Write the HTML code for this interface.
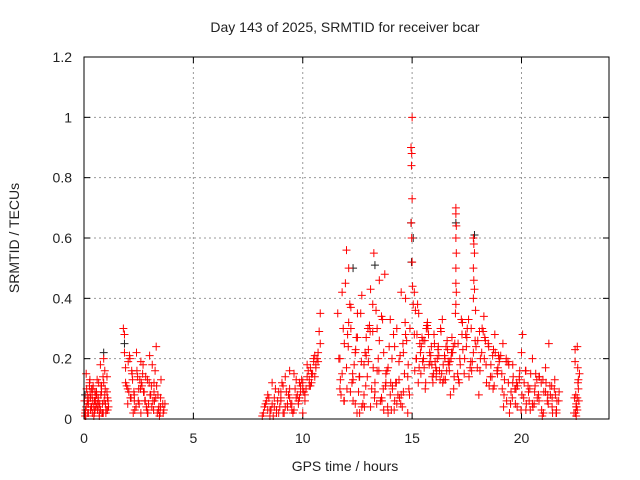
<!DOCTYPE html>
<html><head><meta charset="utf-8"><style>
body{margin:0;background:#fff;}
svg{display:block;font-family:"Liberation Sans",sans-serif;}
</style></head><body>
<svg id="chart" width="640" height="480" viewBox="0 0 640 480" xmlns="http://www.w3.org/2000/svg">
<rect width="640" height="480" fill="#fff"/>
<text x="345" y="32" font-size="14" text-anchor="middle" fill="#222">Day 143 of 2025, SRMTID for receiver bcar</text>
<text x="345" y="471" font-size="14" text-anchor="middle" fill="#222">GPS time / hours</text>
<text transform="translate(19,238) rotate(-90)" font-size="14" text-anchor="middle" fill="#222">SRMTID / TECUs</text>
<g id="grid"></g>
<g id="ticks"></g>
<g id="marks"></g>
<rect x="84" y="57" width="525" height="362" fill="none" stroke="#000" stroke-width="1"/>
</svg>
<script>
const xTicks=[0,5,10,15,20];
const yTicks=[0,0.2,0.4,0.6,0.8,1,1.2];
const yTickLabels=["0","0.2","0.4","0.6","0.8","1","1.2"];
const redHours=[
0.05,0.1,0.15,0.2,0.25,0.3,0.35,0.4,0.45,0.5,0.55,0.6,0.65,0.7,0.75,0.8,0.85,0.9,0.95,1.0,1.05,1.1,0.1,0.2,0.3,0.4,0.5,0.6,0.7,0.8,0.9,1.0,0.15,0.35,0.55,0.75,0.95,0.05,0.25,0.45,0.65,0.85,1.05,
1.8,1.85,1.9,2.0,2.1,2.2,2.3,2.4,2.5,2.6,2.7,2.8,2.9,3.0,3.1,3.2,3.3,3.4,3.5,3.6,1.9,2.05,2.25,2.45,2.65,2.85,3.05,3.25,3.45,3.65,2.0,2.3,2.6,2.9,3.2,3.5,2.15,2.55,2.95,3.35,1.85,2.75,3.15,
8.2,8.3,8.4,8.5,8.6,8.7,8.8,8.9,9.0,9.1,9.2,9.3,9.4,9.5,9.6,9.7,9.8,9.9,10.0,10.1,10.2,10.3,10.4,10.5,10.6,10.7,10.8,8.35,8.65,8.95,9.25,9.55,9.85,10.15,10.45,10.75,8.5,9.0,9.5,10.0,10.5,9.4,9.75,10.3,
11.6,11.7,11.8,11.9,12.0,12.1,12.2,12.3,12.4,12.5,12.6,12.7,12.8,12.9,13.0,13.1,13.2,13.3,13.4,13.5,13.6,13.7,13.8,13.9,14.0,14.1,14.2,14.3,14.4,14.5,14.6,14.7,14.8,
11.7,11.9,12.1,12.3,12.5,12.7,12.9,13.1,13.3,13.5,13.7,13.9,14.1,14.3,14.5,14.7,11.8,12.2,12.6,13.0,13.4,13.8,14.2,14.6,12.0,12.4,12.8,13.2,13.6,14.0,14.4,14.8,11.95,12.05,13.25,13.35,13.75,
14.95,14.97,15.0,14.98,15.0,14.96,14.98,15.0,15.02,15.05,14.9,15.1,
15.1,15.2,15.3,15.4,15.5,15.6,15.7,15.8,15.9,16.0,16.1,16.2,16.3,16.4,16.5,16.6,16.7,16.8,16.9,15.15,15.35,15.55,15.75,15.95,16.15,16.35,16.55,16.75,15.25,15.65,16.05,16.45,16.85,15.45,15.85,16.25,16.65,
17.0,17.0,17.02,17.0,17.02,17.0,17.0,17.02,17.0,16.98,
17.1,17.2,17.3,17.4,17.5,17.6,17.7,17.8,17.9,18.0,18.1,18.2,18.3,18.4,18.5,18.6,18.7,18.8,18.9,19.0,17.15,17.45,17.75,18.05,18.35,18.65,18.95,17.25,17.65,18.25,18.75,
17.8,17.82,17.85,17.8,17.82,17.85,17.8,
19.1,19.2,19.3,19.4,19.5,19.6,19.7,19.8,19.9,20.0,20.1,20.2,20.3,20.4,20.5,20.6,20.7,20.8,20.9,21.0,21.1,21.2,21.3,21.4,21.5,21.6,21.7,19.15,19.45,19.75,20.05,20.35,20.65,20.95,21.25,21.55,19.3,19.9,20.5,21.1,21.6,19.6,20.2,20.8,21.4,
22.4,22.45,22.5,22.55,22.6,22.65,22.5,22.55,22.45,22.6,22.5,22.55
];
const redValues=[
0.02,0.15,0.08,0.05,0.12,0.03,0.1,0.06,0.01,0.09,0.04,0.13,0.07,0.02,0.18,0.11,0.05,0.2,0.08,0.03,0.14,0.06,0.04,0.02,0.07,0.1,0.03,0.05,0.01,0.09,0.12,0.02,0.06,0.04,0.08,0.03,0.16,0.01,0.11,0.04,0.06,0.02,0.09,
0.3,0.28,0.12,0.05,0.2,0.15,0.08,0.22,0.1,0.02,0.18,0.06,0.13,0.21,0.04,0.09,0.24,0.03,0.07,0.05,0.17,0.09,0.02,0.14,0.11,0.04,0.08,0.16,0.01,0.03,0.1,0.06,0.19,0.02,0.12,0.04,0.07,0.13,0.05,0.02,0.22,0.09,0.06,
0.02,0.05,0.08,0.01,0.12,0.04,0.03,0.09,0.06,0.02,0.14,0.05,0.1,0.03,0.15,0.07,0.05,0.11,0.12,0.08,0.18,0.13,0.15,0.2,0.17,0.22,0.35,0.06,0.01,0.04,0.09,0.02,0.12,0.1,0.15,0.29,0.03,0.07,0.05,0.02,0.19,0.16,0.08,0.11,
0.35,0.1,0.42,0.25,0.17,0.5,0.3,0.06,0.22,0.35,0.14,0.41,0.08,0.27,0.19,0.04,0.38,0.12,0.3,0.46,0.07,0.22,0.15,0.02,0.33,0.11,0.24,0.05,0.19,0.42,0.09,0.28,0.14,
0.2,0.06,0.32,0.13,0.27,0.04,0.21,0.43,0.09,0.26,0.03,0.17,0.1,0.3,0.08,0.4,0.15,0.37,0.02,0.23,0.16,0.12,0.06,0.22,0.56,0.05,0.18,0.29,0.34,0.08,0.13,0.02,0.45,0.28,0.55,0.36,0.48,
0.9,0.84,1.0,0.88,0.73,0.65,0.6,0.52,0.44,0.38,0.3,0.28,
0.42,0.2,0.35,0.15,0.26,0.1,0.32,0.22,0.18,0.28,0.14,0.24,0.3,0.12,0.2,0.26,0.16,0.22,0.1,0.36,0.25,0.17,0.28,0.12,0.2,0.15,0.24,0.08,0.38,0.3,0.19,0.13,0.22,0.27,0.21,0.16,0.19,
0.7,0.68,0.64,0.6,0.55,0.5,0.45,0.42,0.38,0.35,
0.25,0.18,0.32,0.2,0.27,0.14,0.3,0.22,0.36,0.26,0.16,0.3,0.2,0.12,0.24,0.18,0.1,0.22,0.15,0.2,0.12,0.28,0.19,0.08,0.26,0.14,0.21,0.33,0.17,0.29,0.11,
0.6,0.58,0.55,0.5,0.46,0.43,0.4,
0.15,0.08,0.2,0.12,0.05,0.18,0.1,0.04,0.14,0.22,0.07,0.16,0.11,0.03,0.2,0.09,0.13,0.06,0.12,0.02,0.17,0.08,0.11,0.04,0.1,0.03,0.06,0.25,0.02,0.1,0.28,0.06,0.15,0.01,0.25,0.08,0.19,0.13,0.05,0.09,0.02,0.12,0.03,0.14,0.07,
0.02,0.23,0.05,0.24,0.1,0.15,0.01,0.07,0.19,0.13,0.04,0.03
];
const denseHours=[
0.02,0.07,0.12,0.17,0.22,0.27,0.32,0.37,0.42,0.47,0.52,0.57,0.62,0.67,0.72,0.77,0.82,0.87,0.92,0.97,1.02,1.07,1.12,0.08,0.18,0.28,0.38,0.48,0.58,0.68,0.78,0.88,0.98,1.08,
1.95,2.02,2.12,2.22,2.32,2.42,2.52,2.62,2.72,2.82,2.92,3.02,3.12,3.22,3.32,3.42,3.52,3.62,3.7,2.08,2.28,2.48,2.68,2.88,3.08,3.28,3.48,2.18,2.38,2.58,2.78,2.98,3.18,3.38,
8.25,8.45,8.55,8.75,8.85,9.05,9.15,9.35,9.45,9.65,9.85,9.95,10.05,10.25,10.35,10.55,10.65,8.15,8.4,8.6,8.8,9.0,9.2,9.4,9.6,9.8,10.0,10.2,10.4,10.6,10.8,9.1,9.3,9.7,9.9,10.1,10.35,10.55,10.7,8.7,8.9,
11.65,11.75,11.85,12.15,12.25,12.35,12.45,12.55,12.65,12.75,12.85,12.95,13.05,13.15,13.45,13.55,13.65,13.85,13.95,14.05,14.15,14.25,14.35,14.45,14.55,14.65,14.75,14.85,11.72,11.88,12.08,12.28,12.48,12.68,12.88,13.08,13.28,13.48,13.68,13.88,14.08,14.28,14.48,14.68,14.88,12.02,12.42,12.82,13.22,13.62,14.02,14.42,14.82,12.18,12.58,12.98,13.38,13.78,14.18,14.58,
15.12,15.22,15.32,15.42,15.52,15.62,15.72,15.82,15.92,16.02,16.12,16.22,16.32,16.42,16.52,16.62,16.72,16.82,16.92,15.18,15.38,15.58,15.78,15.98,16.18,16.38,16.58,16.78,16.95,15.28,15.48,15.68,15.88,16.08,16.28,16.48,16.68,16.88,
17.08,17.18,17.28,17.38,17.48,17.58,17.68,17.88,17.98,18.08,18.18,18.28,18.38,18.48,18.58,18.68,18.78,18.88,18.98,17.12,17.32,17.52,17.72,17.92,18.12,18.32,18.52,18.72,18.92,
19.05,19.12,19.22,19.32,19.42,19.52,19.62,19.72,19.82,19.92,20.02,20.12,20.22,20.32,20.42,20.52,20.62,20.72,20.82,20.92,21.02,21.12,21.22,21.32,21.42,21.52,21.62,21.72,19.18,19.38,19.58,19.78,19.98,20.18,20.38,20.58,20.78,20.98,21.18,21.38,21.58,
22.42,22.48,22.52,22.58,22.62,22.47,22.57
];
const denseValues=[
0.06,0.03,0.1,0.02,0.07,0.13,0.04,0.08,0.11,0.02,0.06,0.09,0.03,0.12,0.05,0.08,0.02,0.14,0.06,0.1,0.03,0.07,0.04,0.01,0.05,0.09,0.02,0.06,0.08,0.04,0.11,0.02,0.05,0.03,
0.11,0.19,0.07,0.13,0.03,0.16,0.05,0.12,0.09,0.14,0.02,0.08,0.18,0.06,0.11,0.04,0.13,0.02,0.05,0.21,0.09,0.06,0.15,0.03,0.11,0.07,0.02,0.16,0.04,0.1,0.06,0.12,0.03,0.08,
0.04,0.07,0.03,0.1,0.06,0.12,0.02,0.08,0.05,0.1,0.07,0.13,0.09,0.16,0.11,0.14,0.2,0.01,0.03,0.05,0.02,0.09,0.04,0.07,0.03,0.06,0.1,0.14,0.12,0.18,0.25,0.11,0.04,0.13,0.09,0.06,0.17,0.21,0.19,0.07,0.02,
0.2,0.08,0.3,0.38,0.12,0.18,0.27,0.09,0.35,0.05,0.22,0.14,0.31,0.1,0.2,0.06,0.33,0.16,0.24,0.03,0.28,0.12,0.08,0.21,0.04,0.15,0.26,0.1,0.13,0.06,0.24,0.15,0.02,0.19,0.11,0.29,0.07,0.16,0.1,0.04,0.2,0.12,0.05,0.32,0.08,0.1,0.23,0.04,0.17,0.06,0.12,0.07,0.18,0.09,0.14,0.3,0.05,0.11,0.03,0.25,0.16,
0.28,0.17,0.24,0.2,0.12,0.3,0.19,0.14,0.25,0.16,0.21,0.29,0.18,0.13,0.23,0.19,0.27,0.14,0.2,0.22,0.26,0.18,0.15,0.23,0.33,0.16,0.2,0.25,0.12,0.19,0.31,0.24,0.17,0.13,0.21,0.18,0.24,0.15,
0.2,0.28,0.15,0.24,0.33,0.19,0.26,0.17,0.29,0.22,0.34,0.18,0.25,0.14,0.21,0.28,0.16,0.19,0.13,0.23,0.3,0.16,0.24,0.2,0.27,0.11,0.23,0.17,0.21,
0.1,0.13,0.06,0.18,0.09,0.14,0.05,0.11,0.16,0.08,0.12,0.05,0.09,0.15,0.04,0.11,0.07,0.14,0.03,0.09,0.12,0.05,0.08,0.02,0.13,0.06,0.09,0.04,0.19,0.07,0.12,0.03,0.16,0.1,0.05,0.08,0.13,0.06,0.11,0.02,0.07,
0.08,0.04,0.12,0.06,0.02,0.17,0.09
];
const blackHours=[0.05,0.9,1.85,12.3,13.3,14.95,14.97,15.05,17.0,17.85];
const blackValues=[0.08,0.22,0.25,0.5,0.51,0.65,0.52,0.6,0.65,0.61];

const X0=84,X1=609,Y0=419,Y1=57,XMAX=24,YMAX=1.2;
const sx=h=>X0+(X1-X0)*h/XMAX;
const sy=v=>Y0-(Y0-Y1)*v/YMAX;
const NS="http://www.w3.org/2000/svg";
const grid=document.getElementById('grid'),ticks=document.getElementById('ticks'),marks=document.getElementById('marks');
function mk(tag,attrs,parent){const e=document.createElementNS(NS,tag);for(const k in attrs)e.setAttribute(k,attrs[k]);parent.appendChild(e);return e;}
xTicks.forEach(t=>{
  const x=sx(t);
  if(t>0){const g=mk('line',{x1:x,x2:x,y1:Y1,y2:Y0,stroke:'#999','stroke-dasharray':'2,3'},grid);
  
  }
  mk('line',{x1:x,x2:x,y1:Y0,y2:Y0-6,stroke:'#000'},ticks);
  mk('line',{x1:x,x2:x,y1:Y1,y2:Y1+6,stroke:'#000'},ticks);
  const l=mk('text',{x:x,y:Y0+24,'font-size':14,'text-anchor':'middle',fill:'#222'},ticks);
  l.textContent=t;
  
  
});
yTicks.forEach((t,i)=>{
  const y=sy(t);
  if(t>0&&t<YMAX){const g=mk('line',{x1:X0,x2:X1,y1:y,y2:y,stroke:'#999','stroke-dasharray':'2,3'},grid);
  
  }
  mk('line',{x1:X0,x2:X0+6,y1:y,y2:y,stroke:'#000'},ticks);
  mk('line',{x1:X1,x2:X1-6,y1:y,y2:y,stroke:'#000'},ticks);
  const l=mk('text',{x:X0-12,y:y+5,'font-size':14,'text-anchor':'end',fill:'#222'},ticks);
  l.textContent=yTickLabels[i];
  
  
});
function plus(h,v,color,name){
  const x=sx(h),y=sy(v);
  const p=mk('path',{d:`M${x-4},${y}H${x+4}M${x},${y-4}V${y+4}`,stroke:color,'stroke-width':1,fill:'none'},marks);
  
  
}
blackHours.forEach((h,i)=>plus(h,blackValues[i],'#222','black-point'));
redHours.forEach((h,i)=>plus(h,redValues[i],'#f00','red-point'));
denseHours.forEach((h,i)=>plus(h,denseValues[i],'#f00','red-point'));
</script>
</body></html>
